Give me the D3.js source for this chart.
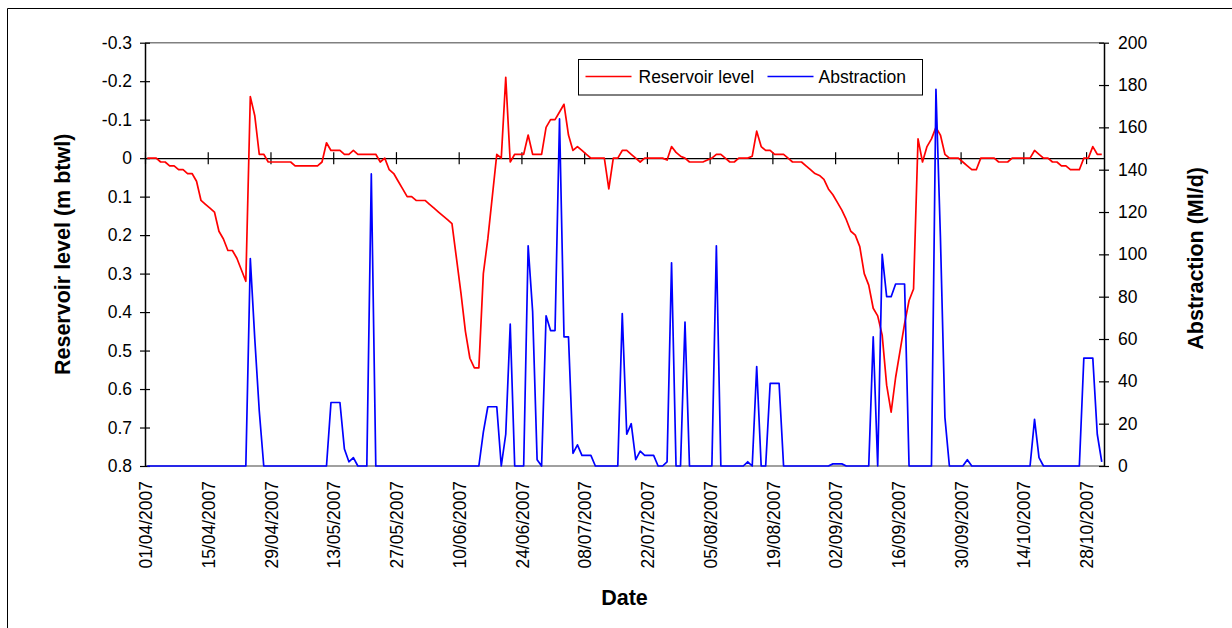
<!DOCTYPE html>
<html>
<head>
<meta charset="utf-8">
<script src="https://cdn.jsdelivr.net/npm/d3@7"></script>
<style>
  html, body { margin: 0; padding: 0; background: #ffffff; }
  text { font-family: "Liberation Sans", Arial, sans-serif; fill: #000; }
</style>
</head>
<body>
<div id="chart"></div>
<script>
// daily series, first value is 01/04/2007
var startDate = "01/04/2007";

// reservoir level, m below top water level (negative = above)
var level = [
  0, 0, 0, 0.01, 0.01, 0.02, 0.02, 0.03, 0.03, 0.04,
  0.04, 0.06, 0.11, 0.12, 0.13, 0.14, 0.19, 0.21, 0.24, 0.24,
  0.26, 0.29, 0.32, -0.16, -0.11, -0.01, -0.01, 0.01, 0.01, 0.01,
  0.01, 0.01, 0.01, 0.02, 0.02, 0.02, 0.02, 0.02, 0.02, 0.01,
  -0.04, -0.02, -0.02, -0.02, -0.01, -0.01, -0.02, -0.01, -0.01, -0.01,
  -0.01, -0.01, 0.01, 0, 0.03, 0.04, 0.06, 0.08, 0.10, 0.10,
  0.11, 0.11, 0.11, 0.12, 0.13, 0.14, 0.15, 0.16, 0.17, 0.26,
  0.35, 0.45, 0.52, 0.545, 0.545, 0.30, 0.21, 0.10, -0.01, 0,
  -0.21, 0.01, -0.01, -0.01, -0.01, -0.06, -0.01, -0.01, -0.01, -0.08,
  -0.10, -0.10, -0.12, -0.14, -0.06, -0.02, -0.03, -0.02, -0.01, 0,
  0, 0, 0, 0.08, 0, 0, -0.02, -0.02, -0.01, 0,
  0.01, 0, 0, 0, 0, 0, 0.005, -0.03, -0.015, -0.005,
  0, 0.01, 0.01, 0.01, 0.01, 0.005, 0, -0.01, -0.01, 0,
  0.01, 0.01, 0, 0, 0, -0.005, -0.07, -0.03, -0.02, -0.02,
  -0.01, -0.01, -0.01, 0, 0.01, 0.01, 0.01, 0.02, 0.03, 0.04,
  0.045, 0.055, 0.08, 0.095, 0.115, 0.135, 0.16, 0.19, 0.20, 0.23,
  0.30, 0.33, 0.39, 0.41, 0.46, 0.59, 0.66, 0.57, 0.50, 0.43,
  0.37, 0.34, -0.05, 0.01, -0.03, -0.05, -0.08, -0.06, -0.01, 0,
  0, 0, 0.01, 0.02, 0.03, 0.03, 0, 0, 0, 0,
  0.01, 0.01, 0.01, 0, 0, 0, 0, 0, -0.02, -0.01,
  0, 0, 0.01, 0.01, 0.02, 0.02, 0.03, 0.03, 0.03, 0,
  0, -0.03, -0.01, -0.01
];

// abstraction, Ml/d
var abstraction = [
  0, 0, 0, 0, 0, 0, 0, 0, 0, 0,
  0, 0, 0, 0, 0, 0, 0, 0, 0, 0,
  0, 0, 0, 98, 60, 26, 0, 0, 0, 0,
  0, 0, 0, 0, 0, 0, 0, 0, 0, 0,
  0, 30, 30, 30, 8, 2, 4, 0, 0, 0,
  138, 0, 0, 0, 0, 0, 0, 0, 0, 0,
  0, 0, 0, 0, 0, 0, 0, 0, 0, 0,
  0, 0, 0, 0, 0, 16, 28, 28, 28, 0,
  15, 67, 0, 0, 0, 104, 73, 3, 0, 71,
  64, 64, 164, 61, 61, 6, 10, 5, 5, 5,
  0, 0, 0, 0, 0, 0, 72, 15, 20, 3,
  7, 5, 5, 5, 0, 0, 2, 96, 0, 0,
  68, 0, 0, 0, 0, 0, 0, 104, 0, 0,
  0, 0, 0, 0, 2, 0, 47, 0, 0, 39,
  39, 39, 0, 0, 0, 0, 0, 0, 0, 0,
  0, 0, 0, 1, 1, 1, 0, 0, 0, 0,
  0, 0, 61, 0, 100, 80, 80, 86, 86, 86,
  0, 0, 0, 0, 0, 0, 178, 108, 23, 0,
  0, 0, 0, 3, 0, 0, 0, 0, 0, 0,
  0, 0, 0, 0, 0, 0, 0, 0, 22, 4,
  0, 0, 0, 0, 0, 0, 0, 0, 0, 51,
  51, 51, 15, 2
];

var dateTicks = [
  "01/04/2007", "15/04/2007", "29/04/2007", "13/05/2007", "27/05/2007",
  "10/06/2007", "24/06/2007", "08/07/2007", "22/07/2007", "05/08/2007",
  "19/08/2007", "02/09/2007", "16/09/2007", "30/09/2007", "14/10/2007",
  "28/10/2007"
];
var levelTicks = [-0.3, -0.2, -0.1, 0, 0.1, 0.2, 0.3, 0.4, 0.5, 0.6, 0.7, 0.8];
var levelLabels = ["-0.3", "-0.2", "-0.1", "0", "0.1", "0.2", "0.3", "0.4", "0.5", "0.6", "0.7", "0.8"];
var abstractionTicks = [0, 20, 40, 60, 80, 100, 120, 140, 160, 180, 200];

var seriesNames = ["Reservoir level", "Abstraction"];
var seriesColors = ["#ff0000", "#0000ff"];

var width = 1232, height = 628;
var plot = { left: 145, right: 1104, top: 42.7, bottom: 466 };

var parseDate = d3.utcParse("%d/%m/%Y");
var day0 = parseDate(startDate);
var dayAt = function(i) { return d3.utcHour.offset(d3.utcDay.offset(day0, i), 12); };

var x = d3.scaleUtc()
  .domain([day0, d3.utcDay.offset(day0, 214)])
  .range([plot.left, plot.right]);
var yL = d3.scaleLinear().domain([-0.3, 0.8]).range([plot.top, plot.bottom]);
var yR = d3.scaleLinear().domain([0, 200]).range([plot.bottom, plot.top]);

var svg = d3.select("#chart").append("svg")
  .attr("width", width)
  .attr("height", height);

svg.append("rect").attr("width", width).attr("height", height).attr("fill", "#fff");

// outer chart frame (only top and left edges are on the page)
svg.append("path")
  .attr("d", "M7.5," + height + "V8.5H" + width)
  .attr("fill", "none").attr("stroke", "#000").attr("stroke-width", 1);

// plot area top / bottom edges
svg.append("line")
  .attr("x1", plot.left).attr("x2", plot.right)
  .attr("y1", plot.top).attr("y2", plot.top)
  .attr("stroke", "#808080").attr("stroke-width", 1.5);
svg.append("line")
  .attr("x1", plot.left).attr("x2", plot.right)
  .attr("y1", plot.bottom).attr("y2", plot.bottom)
  .attr("stroke", "#808080").attr("stroke-width", 1.5);

var fontSize = 17.5;

// left axis
var gL = svg.append("g")
  .attr("transform", "translate(" + plot.left + ",0)")
  .call(d3.axisLeft(yL).tickValues(levelTicks).tickSizeOuter(0)
    .tickFormat(function(d, i) { return levelLabels[i]; }));
gL.select(".domain").attr("stroke", "#000").attr("stroke-width", 1.5);
gL.selectAll(".tick line").attr("x1", -5).attr("x2", 5).attr("stroke-width", 1.2);
gL.selectAll(".tick text").attr("x", -13).attr("font-size", fontSize)
  .attr("font-family", "Liberation Sans, Arial, sans-serif");

// right axis
var gR = svg.append("g")
  .attr("transform", "translate(" + plot.right + ",0)")
  .call(d3.axisRight(yR).tickValues(abstractionTicks).tickSizeOuter(0));
gR.select(".domain").attr("stroke", "#000").attr("stroke-width", 1.5);
gR.selectAll(".tick line").attr("x1", -5).attr("x2", 5).attr("stroke-width", 1.2);
gR.selectAll(".tick text").attr("x", 14).attr("font-size", fontSize)
  .attr("font-family", "Liberation Sans, Arial, sans-serif");

// date axis sits on the zero line
var tickDates = dateTicks.map(parseDate);
var gX = svg.append("g")
  .attr("transform", "translate(0," + yL(0) + ")")
  .call(d3.axisBottom(x).tickValues(tickDates).tickFormat("").tickSizeOuter(0));
gX.select(".domain").attr("stroke", "#000").attr("stroke-width", 1.2);
gX.selectAll(".tick line").attr("y1", -6).attr("y2", 6).attr("stroke-width", 1.2);

svg.append("g").selectAll("text")
  .data(tickDates)
  .enter().append("text")
  .attr("transform", function(d) { return "translate(" + (x(d) + 1) + "," + (plot.bottom + 15) + ") rotate(-90)"; })
  .attr("text-anchor", "end")
  .attr("dy", "0.35em")
  .attr("font-size", fontSize)
  .text(function(d, i) { return dateTicks[i]; });

// series lines
var lineL = d3.line()
  .x(function(d, i) { return x(dayAt(i)); })
  .y(function(d) { return yL(d); });
var lineR = d3.line()
  .x(function(d, i) { return x(dayAt(i)); })
  .y(function(d) { return yR(d); });

svg.append("path")
  .datum(level)
  .attr("d", lineL)
  .attr("fill", "none")
  .attr("stroke", seriesColors[0])
  .attr("stroke-width", 1.7)
  .attr("stroke-linejoin", "round");

svg.append("path")
  .datum(abstraction)
  .attr("d", lineR)
  .attr("fill", "none")
  .attr("stroke", seriesColors[1])
  .attr("stroke-width", 1.7)
  .attr("stroke-linejoin", "round");

// axis titles
svg.append("text")
  .attr("transform", "translate(62," + ((plot.top + plot.bottom) / 2) + ") rotate(-90)")
  .attr("text-anchor", "middle")
  .attr("dy", "0.35em")
  .attr("font-size", 21.5)
  .attr("font-weight", "bold")
  .text("Reservoir level (m btwl)");

svg.append("text")
  .attr("transform", "translate(1195," + ((plot.top + plot.bottom) / 2 + 4) + ") rotate(-90)")
  .attr("text-anchor", "middle")
  .attr("dy", "0.35em")
  .attr("font-size", 21.5)
  .attr("font-weight", "bold")
  .text("Abstraction (Ml/d)");

svg.append("text")
  .attr("x", (plot.left + plot.right) / 2)
  .attr("y", 605)
  .attr("text-anchor", "middle")
  .attr("font-size", 21.5)
  .attr("font-weight", "bold")
  .text("Date");

// legend
var legend = svg.append("g").attr("transform", "translate(578.5,59.5)");
legend.append("rect")
  .attr("width", 344).attr("height", 35.5)
  .attr("fill", "#fff").attr("stroke", "#000").attr("stroke-width", 1);
var legendX = [[7, 53, 60], [189, 235, 240]];
seriesNames.forEach(function(name, i) {
  legend.append("line")
    .attr("x1", legendX[i][0]).attr("x2", legendX[i][1])
    .attr("y1", 17).attr("y2", 17)
    .attr("stroke", seriesColors[i]).attr("stroke-width", 1.7);
  legend.append("text")
    .attr("x", legendX[i][2]).attr("y", 17)
    .attr("dy", "0.35em")
    .attr("font-size", fontSize)
    .text(name);
});
</script>
</body>
</html>
